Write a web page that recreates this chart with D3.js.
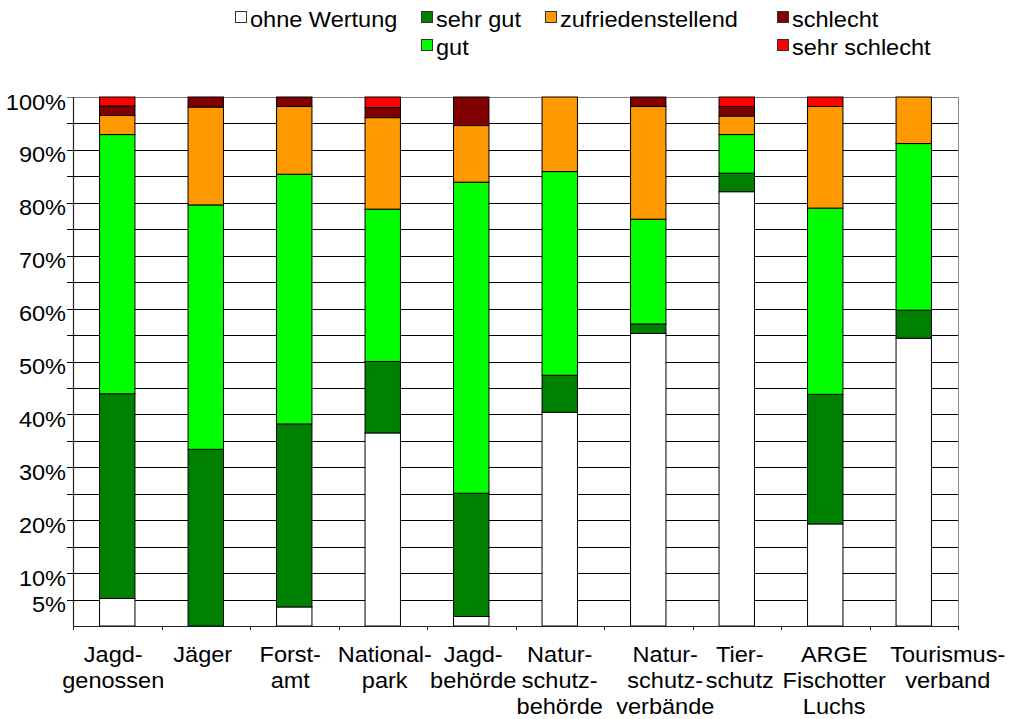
<!DOCTYPE html>
<html>
<head>
<meta charset="utf-8">
<script src="https://cdn.jsdelivr.net/npm/d3@7"></script>
<style>
  html, body { margin: 0; padding: 0; background: #fff; }
  svg { display: block; font-family: "Liberation Sans", Arial, Helvetica, sans-serif; }
</style>
</head>
<body>
<svg id="chart" width="1011" height="719"></svg>
<script>
// Bewertung der Zusammenarbeit nach Gruppen (Anteile in %)
const categories = [
  ["Jagd-", "genossen"],
  ["Jäger"],
  ["Forst-", "amt"],
  ["National-", "park"],
  ["Jagd-", "behörde"],
  ["Natur-", "schutz-", "behörde"],
  ["Natur-", "schutz-", "verbände"],
  ["Tier-", "schutz"],
  ["ARGE", "Fischotter", "Luchs"],
  ["Tourismus-", "verband"]
];

const seriesNames = ["ohne Wertung", "sehr gut", "gut", "zufriedenstellend", "schlecht", "sehr schlecht"];
const seriesColors = ["#FFFFFF", "#008000", "#00FF00", "#FF9900", "#800000", "#FF0000"];

const ohneWertung   = [5.2,  0.0,  3.6, 36.5,  1.8, 40.4, 55.3, 82.1, 19.3, 54.4];
const sehrGut       = [38.7, 33.4, 34.6, 13.5, 23.3,  7.0,  1.8,  3.5, 24.5,  5.3];
const gut           = [49.0, 46.2, 47.2, 28.8, 58.8, 38.5, 19.8,  7.3, 35.2, 31.5];
const zufrieden     = [3.6,  18.5, 12.8, 17.3, 10.7, 14.1, 21.3,  3.5, 19.2,  8.8];
const schlecht      = [1.8,   1.9,  1.8,  1.9,  5.4,  0.0,  1.8,  1.8,  0.0,  0.0];
const sehrSchlecht  = [1.7,   0.0,  0.0,  2.0,  0.0,  0.0,  0.0,  1.8,  1.8,  0.0];

const yTickValues = [5, 10, 20, 30, 40, 50, 60, 70, 80, 90, 100];
const gridValues = d3.range(5, 101, 5);

// horizontal nudges of the category captions so wrapped lines don't collide
const labelNudge = [-4, -3, -4, 2, 2, 0, 17, 3, 9, 34];

const FONT = 22;
const STRETCH = 1.07;

const seriesValues = [ohneWertung, sehrGut, gut, zufrieden, schlecht, sehrSchlecht];
const rows = categories.map((c, i) => {
  const r = { key: i };
  seriesNames.forEach((s, j) => { r[s] = seriesValues[j][i]; });
  return r;
});

const svg = d3.select("#chart");
const margin = { left: 73, right: 1011 - 958, top: 97, bottom: 719 - 626 };
const width = 1011 - margin.left - margin.right;
const height = 719 - margin.top - margin.bottom;
const g = svg.append("g").attr("transform", `translate(${margin.left},${margin.top})`);

const x = d3.scaleBand().domain(d3.range(categories.length)).range([0, width])
  .paddingInner(0.6).paddingOuter(0.3);
const y = d3.scaleLinear().domain([0, 100]).range([height, 0]);

// horizontal gridlines every 5 %, with short ticks left of the axis
g.append("g").selectAll("line").data(gridValues).join("line")
  .attr("x1", -6).attr("x2", width)
  .attr("y1", d => Math.round(y(d)) + 0.5).attr("y2", d => Math.round(y(d)) + 0.5)
  .attr("stroke", d => d === 100 ? "#7f7f7f" : "#000")
  .attr("stroke-width", 1);

// right frame line
g.append("line")
  .attr("x1", width + 0.5).attr("x2", width + 0.5)
  .attr("y1", y(100)).attr("y2", y(0))
  .attr("stroke", "#8a8a8a").attr("stroke-width", 1);

// stacked bars
const stack = d3.stack().keys(seriesNames);
const stacked = stack(rows);

g.append("g").selectAll("g").data(stacked).join("g")
  .attr("fill", (d, i) => seriesColors[i])
  .selectAll("rect").data(d => d.filter(p => p[1] - p[0] > 0)).join("rect")
  .attr("x", d => x(d.data.key))
  .attr("width", x.bandwidth())
  .attr("y", d => y(d[1]))
  .attr("height", d => y(d[0]) - y(d[1]))
  .attr("stroke", "#000")
  .attr("stroke-width", 1);

// y axis line and labels
g.append("line")
  .attr("x1", 0.5).attr("x2", 0.5).attr("y1", y(100)).attr("y2", y(0))
  .attr("stroke", "#222").attr("stroke-width", 1.2);

g.append("g").selectAll("text").data(yTickValues).join("text")
  .attr("transform", d => `translate(-7,${y(d) + 12.5}) scale(${STRETCH},1)`)
  .attr("text-anchor", "end")
  .attr("font-size", FONT)
  .attr("fill", "#000")
  .text(d => d + "%");

// x axis with ticks between categories
const xAxis = d3.axisBottom(x).tickSize(0).tickFormat("");
const xa = g.append("g").attr("transform", `translate(0,${height})`).call(xAxis);
xa.select(".domain").remove();
g.append("line")
  .attr("x1", 0).attr("x2", width + 1)
  .attr("y1", height + 0.5).attr("y2", height + 0.5)
  .attr("stroke", "#222").attr("stroke-width", 1.2);
const boundaries = d3.range(categories.length + 1).map(i => i * x.step());
g.append("g").selectAll("line").data(boundaries).join("line")
  .attr("x1", d => Math.round(d) + 0.5).attr("x2", d => Math.round(d) + 0.5)
  .attr("y1", height).attr("y2", height + 4)
  .attr("stroke", "#222").attr("stroke-width", 1);

// category labels (multi-line)
const catLabels = g.append("g").selectAll("text").data(categories).join("text")
  .attr("text-anchor", "middle")
  .attr("font-size", FONT)
  .attr("fill", "#000")
  .attr("transform", (d, i) =>
    `translate(${x(i) + x.bandwidth() / 2 + labelNudge[i]},${height + 36}) scale(${STRETCH},1)`);
catLabels.selectAll("tspan").data(d => d).join("tspan")
  .attr("x", 0)
  .attr("y", (d, i) => i * 26)
  .text(d => d);

// legend
const legendItems = [
  { name: seriesNames[0], color: seriesColors[0], x: 235, row: 0 },
  { name: seriesNames[1], color: seriesColors[1], x: 421, row: 0 },
  { name: seriesNames[2], color: seriesColors[2], x: 421, row: 1 },
  { name: seriesNames[3], color: seriesColors[3], x: 545, row: 0 },
  { name: seriesNames[4], color: seriesColors[4], x: 777, row: 0 },
  { name: seriesNames[5], color: seriesColors[5], x: 777, row: 1 }
];
const legend = svg.append("g").selectAll("g").data(legendItems).join("g")
  .attr("transform", d => `translate(${d.x},${11 + d.row * 28})`);
legend.append("rect")
  .attr("x", 0.5).attr("y", 0.5).attr("width", 11).attr("height", 11)
  .attr("fill", d => d.color)
  .attr("stroke", "#333").attr("stroke-width", 1);
legend.append("text")
  .attr("transform", `translate(15,16) scale(${STRETCH},1)`)
  .attr("font-size", FONT)
  .attr("fill", "#000")
  .text(d => d.name);
</script>
</body>
</html>
